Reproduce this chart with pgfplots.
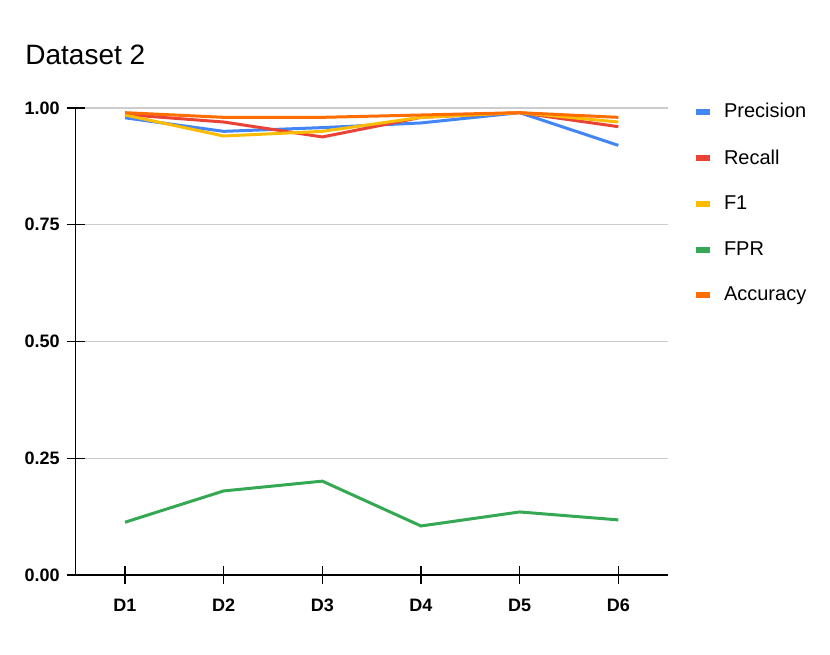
\documentclass[border=0pt]{standalone}
\usepackage{pgfplots}
\pgfplotsset{compat=1.18}
\usepackage{fontspec}
\setmainfont{Liberation Sans}
\definecolor{gblue}{HTML}{4285F4}
\definecolor{gred}{HTML}{EA4335}
\definecolor{gyellow}{HTML}{FBBC04}
\definecolor{ggreen}{HTML}{34A853}
\definecolor{gorange}{HTML}{FF6D01}
\begin{document}
\begin{tikzpicture}
\useasboundingbox (-38pt,-39.5pt) rectangle (377pt,287.5pt);
\node[anchor=west, inner sep=0pt, font=\fontsize{14}{16}\selectfont] at (-25.5pt,260pt) {Dataset 2};
\begin{axis}[
    at={(24.5pt,0pt)}, anchor=origin,
    scale only axis,
    width=296pt, height=233.5pt,
    xmin=-0.5, xmax=5.5,
    ymin=0, ymax=1,
    axis lines=left,
    axis line style={-, black, line width=0.7pt},
    xtick={0,1,2,3,4,5},
    xticklabels={D1,D2,D3,D4,D5,D6},
    ytick={0,0.25,0.5,0.75,1},
    yticklabel style={/pgf/number format/.cd, fixed, fixed zerofill, precision=2},
    /pgf/number format/assume math mode=true,
    ticklabel style={font=\fontsize{9}{10}\selectfont\bfseries, black},
    tick align=center,
    major tick length=9pt,
    tick style={black, line width=0.6pt},
    xticklabel shift=4pt,
    yticklabel shift=0pt,
    ymajorgrids=true,
    grid style={gray!40, line width=0.6pt},
    every axis plot/.append style={line width=1.5pt},
    legend style={draw=none, at={(1.032,1.028)}, anchor=north west,
        font=\fontsize{10}{12}\selectfont, row sep=10.4pt, cells={anchor=west}},
    legend image code/.code={\path[draw=none, fill=none] (0pt,0pt) -- (12pt,0pt); \draw[line width=3pt] (0pt,0pt) -- (7pt,0pt);},
    legend cell align=left,
]
\addplot[gblue] coordinates {(0,0.979)(1,0.950)(2,0.958)(3,0.968)(4,0.990)(5,0.920)};
\addlegendentry{Precision}
\addplot[gred] coordinates {(0,0.986)(1,0.970)(2,0.938)(3,0.980)(4,0.990)(5,0.960)};
\addlegendentry{Recall}
\addplot[gyellow] coordinates {(0,0.985)(1,0.940)(2,0.950)(3,0.980)(4,0.990)(5,0.970)};
\addlegendentry{F1}
\addplot[ggreen] coordinates {(0,0.113)(1,0.180)(2,0.201)(3,0.105)(4,0.135)(5,0.118)};
\addlegendentry{FPR}
\addplot[gorange] coordinates {(0,0.990)(1,0.980)(2,0.980)(3,0.985)(4,0.990)(5,0.980)};
\addlegendentry{Accuracy}
\end{axis}
\end{tikzpicture}
\end{document}
